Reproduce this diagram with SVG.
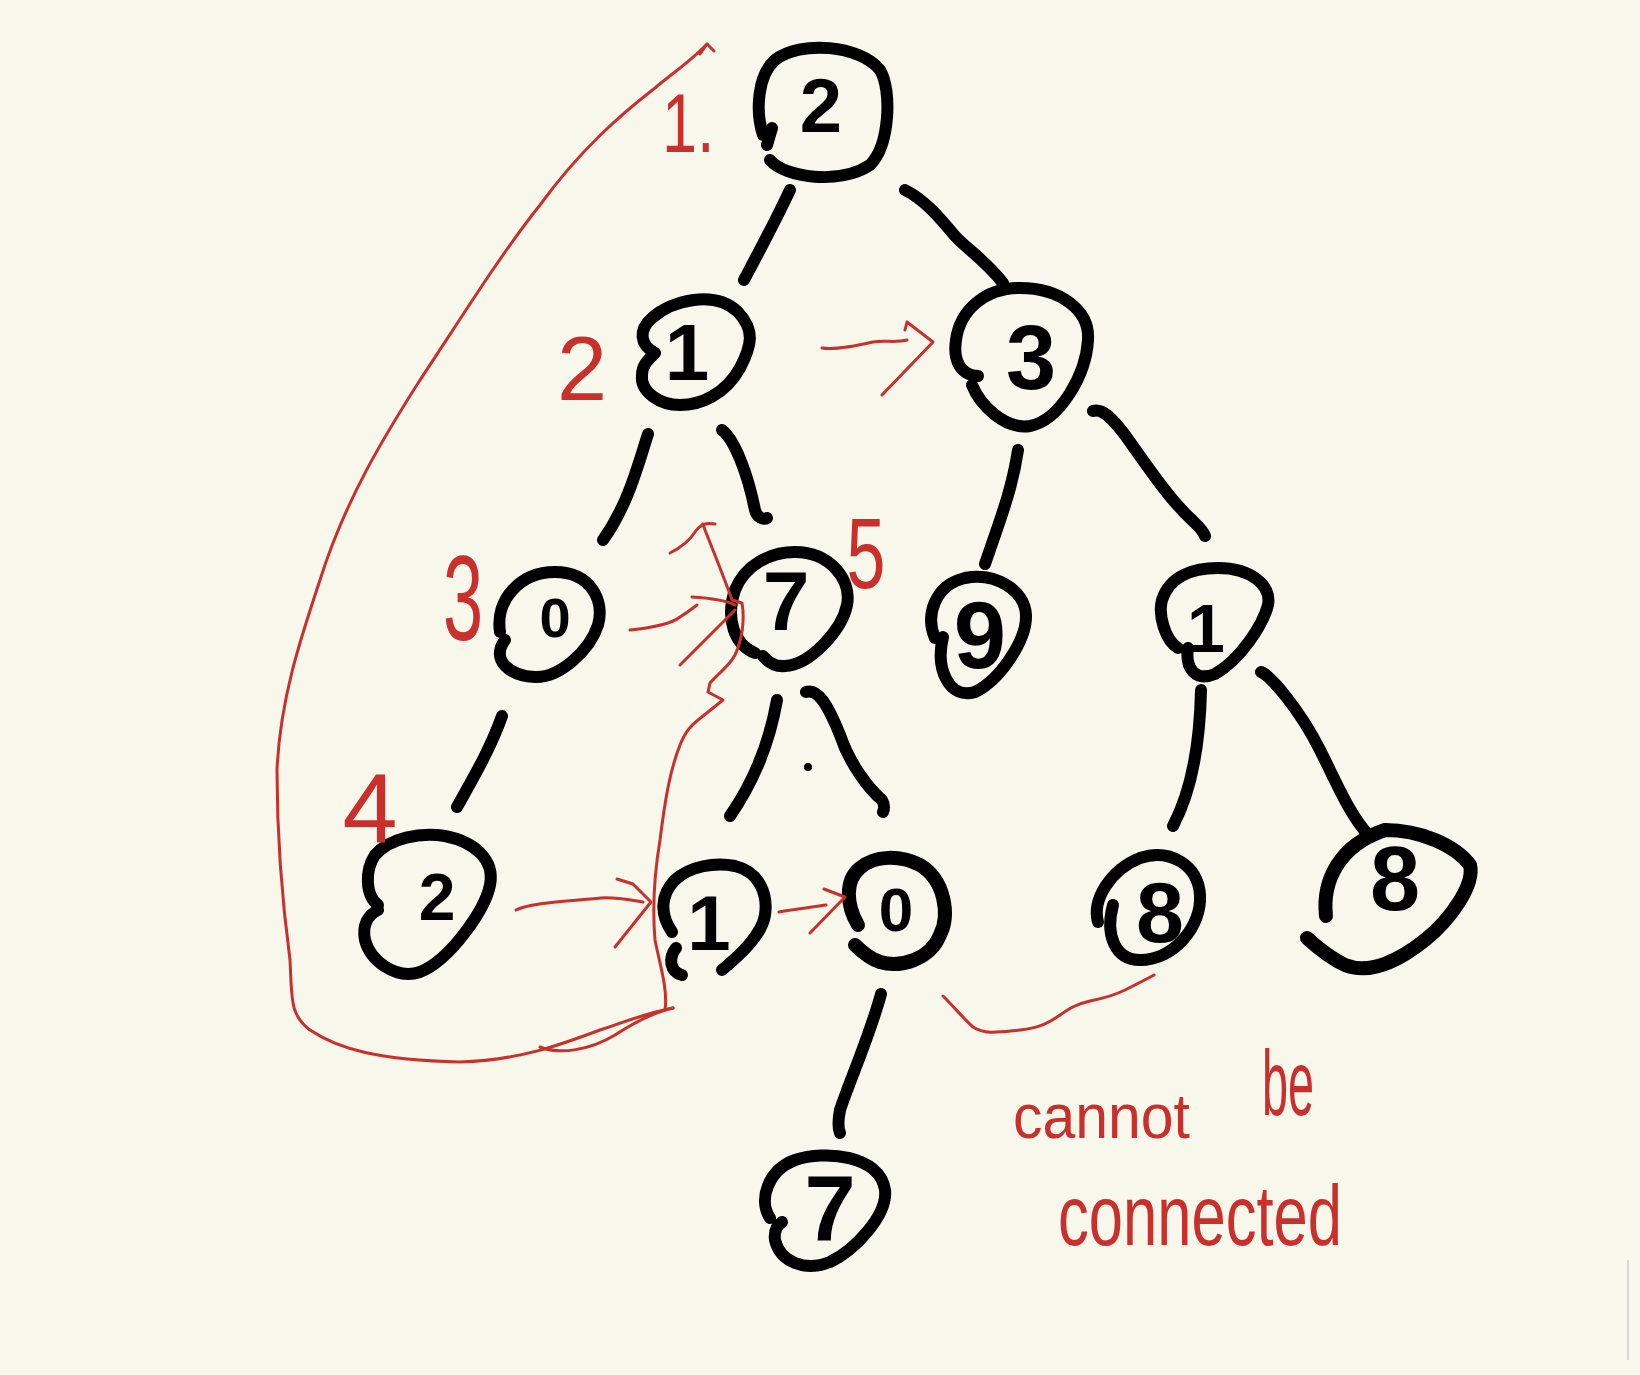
<svg xmlns="http://www.w3.org/2000/svg" width="1640" height="1375" viewBox="0 0 1640 1375">
<style>
.ink{fill:none;stroke:#000;stroke-width:12;stroke-linecap:round;stroke-linejoin:round}
.thick{stroke-width:14}
.red{fill:none;stroke:#c9302c;stroke-width:3;stroke-linecap:round;stroke-linejoin:round}
.d{font-family:"Liberation Sans",Arial,sans-serif;font-weight:bold;fill:#000;text-anchor:middle}
.r{font-family:"Liberation Sans",Arial,sans-serif;fill:#c9302c}
</style>
<rect width="1640" height="1375" fill="#f7f7ec"/>
<line x1="1628" y1="1260" x2="1628" y2="1360" stroke="#d8d8d8" stroke-width="2"/>

<g id="connectors">
<path class="ink" d="M790,190 C775,222 760,250 744,280"/>
<path class="ink" d="M905,190 C925,200 940,218 955,236 C968,250 985,260 1003,283"/>
<path class="ink" d="M648,434 C638,465 628,505 603,540"/>
<path class="ink" d="M722,430 C735,440 748,475 755,510 C757,518 764,520 767,518"/>
<path class="ink" d="M1018,450 C1012,490 1000,520 985,564"/>
<path class="ink" d="M1093,411 C1102,408 1112,418 1125,435 C1150,470 1170,500 1192,520 C1198,526 1203,530 1205,536"/>
<path class="ink" d="M502,716 C490,750 472,780 457,807"/>
<path class="ink" d="M777,700 C770,740 755,780 730,816"/>
<path class="ink" d="M806,692 C818,688 828,705 840,735 C850,765 870,790 882,800 C885,805 884,810 883,812"/>
<circle cx="808" cy="767" r="4" fill="#000"/>
<path class="ink" d="M1201,690 C1200,740 1192,790 1173,826"/>
<path class="ink" d="M1261,672 C1270,675 1300,710 1320,750 C1340,790 1350,815 1370,837"/>
<path class="ink" d="M881,994 C870,1035 850,1080 840,1110 C838,1120 838,1128 840,1133"/>
</g>

<g id="n-root">
<path class="ink" d="M770,160 C785,178 840,185 870,165 C890,145 892,90 880,70 C860,45 800,40 775,60 C758,75 755,110 763,135"/>
<path class="ink" d="M772,128 L767,145"/>
<text class="d" x="821" y="132" font-size="76">2</text>
</g>
<g id="n-1a">
<path class="ink" d="M655,353 C640,345 638,330 652,318 C672,300 715,290 738,312 C755,330 752,345 740,368 C725,395 700,405 680,405 C660,405 640,392 642,375 C642,365 648,360 655,353"/>
<text class="d" x="687" y="380" font-size="80">1</text>
</g>
<g id="n-3">
<path class="ink" d="M978,376 C960,375 953,360 956,340 C960,310 985,288 1020,288 C1060,288 1090,310 1088,340 C1086,375 1060,420 1030,426 C1005,430 980,405 972,385"/>
<text class="d" x="1031" y="389" font-size="90">3</text>
</g>
<g id="n-0a">
<path class="ink" d="M500,632 C495,600 520,572 555,572 C590,572 605,600 598,625 C590,650 560,678 535,677 C510,676 490,660 505,640"/>
<text class="d" x="555" y="637" font-size="56">0</text>
</g>
<g id="n-7a">
<path class="ink" d="M755,653 C735,645 725,620 735,590 C745,565 770,552 795,552 C830,552 852,580 847,605 C842,630 810,665 785,666 C775,667 768,662 763,656"/>
<text class="d" x="786" y="630" font-size="84">7</text>
</g>
<g id="n-9">
<path class="ink" d="M935,638 C925,615 935,585 965,578 C995,572 1025,590 1026,615 C1027,640 1000,680 975,692 C950,700 935,670 943,637"/>
<text class="d" x="980" y="668" font-size="94">9</text>
</g>
<g id="n-1b">
<path class="ink" d="M1178,648 C1165,640 1158,615 1162,600 C1170,575 1195,568 1218,568 C1250,568 1272,585 1268,605 C1263,625 1240,660 1215,674 C1195,682 1185,668 1188,648"/>
<text class="d" x="1206" y="652" font-size="68">1</text>
</g>
<g id="n-2b">
<path class="ink" d="M378,905 C365,895 365,870 375,855 C390,838 420,832 445,836 C475,842 495,860 490,885 C485,910 450,960 420,972 C395,980 370,960 365,940 C362,925 368,915 378,910"/>
<text class="d" x="437" y="920" font-size="66">2</text>
</g>
<g id="n-1c">
<path class="ink" d="M672,932 C660,915 660,895 675,880 C690,866 715,862 735,866 C760,872 768,895 765,915 C762,935 740,955 722,970"/>
<path class="ink" d="M676,948 C668,958 670,972 682,975"/>
<text class="d" x="709" y="950" font-size="78">1</text>
</g>
<g id="n-0b">
<path class="ink thick" d="M858,925 C846,905 845,880 860,868 C875,855 900,855 920,865 C945,880 950,915 940,935 C930,960 900,968 880,962 C868,958 860,950 855,945"/>
<text class="d" x="896" y="931" font-size="62">0</text>
</g>
<g id="n-8a">
<path class="ink" d="M1098,922 C1092,900 1110,870 1140,858 C1170,848 1198,865 1200,895 C1202,925 1175,960 1140,960 C1115,960 1105,935 1113,905"/>
<text class="d" x="1160" y="942" font-size="86">8</text>
</g>
<g id="n-8b">
<path class="ink thick" d="M1326,916 C1322,880 1340,845 1385,830 C1420,830 1455,845 1470,865 C1475,885 1450,920 1425,940 C1400,960 1370,975 1345,965 C1330,958 1318,948 1307,938"/>
<text class="d" x="1395" y="910" font-size="90">8</text>
</g>
<g id="n-7b">
<path class="ink" d="M770,1218 C758,1200 768,1170 795,1160 C825,1150 880,1155 885,1190 C888,1215 855,1250 830,1262 C805,1272 780,1262 775,1240 C774,1232 776,1226 782,1222"/>
<text class="d" x="830" y="1240" font-size="92">7</text>
</g>

<g id="annotations">
<path class="red" d="M707,44 C690,62 670,75 655,88 C620,115 580,150 540,205 C500,255 460,320 420,380 C385,435 345,500 320,580 C300,640 280,700 277,770 C277,840 282,900 290,960 C292,1000 290,1015 310,1030 C340,1050 380,1060 460,1062 C520,1060 560,1045 600,1030 C630,1020 650,1012 673,1008"/>
<path class="red" d="M700,54 L707,44 L714,51"/>
<path class="red" d="M540,1047 C560,1055 590,1050 615,1035 C635,1022 655,1012 673,1008"/>
<path class="red" d="M665,1010 C668,990 660,965 655,940 C652,905 655,870 660,840 C665,800 670,770 680,745 C686,730 692,725 698,720 L723,700 L708,692 L710,683 C720,672 730,665 735,655 C742,640 745,620 742,603 L732,600 C725,580 715,555 705,530 L703,524"/>
<path class="red" d="M670,553 C680,548 690,540 695,532 C700,525 705,522 715,524"/>
<path class="red" d="M822,348 C835,350 860,345 873,342 C885,340 895,343 907,340"/>
<path class="red" d="M905,330 L907,322 L933,342 L882,395"/>
<path class="red" d="M630,630 C650,628 670,625 680,617 C688,612 693,608 697,605"/>
<path class="red" d="M692,597 C710,598 725,600 735,605 M680,665 C700,645 720,625 735,610"/>
<path class="red" d="M516,910 C530,903 560,902 601,898 C615,897 630,900 643,902"/>
<path class="red" d="M617,879 L633,884 L651,902 L615,947"/>
<path class="red" d="M779,912 C790,910 805,908 826,905"/>
<path class="red" d="M824,889 L845,897 L810,933"/>
<path class="red" d="M943,996 C955,1008 965,1020 973,1027 C985,1035 1000,1032 1020,1030 C1040,1028 1050,1022 1060,1015 C1070,1008 1077,1004 1090,1001 C1105,998 1115,995 1125,990 C1135,985 1145,980 1154,975"/>
<text class="r" transform="translate(662,152) scale(0.75,1)" font-size="84">1.</text>
<text class="r" x="582" y="400" font-size="90" text-anchor="middle">2</text>
<text class="r" transform="translate(463,640) scale(0.6,1)" font-size="120" text-anchor="middle">3</text>
<text class="r" x="370" y="842" font-size="99" text-anchor="middle">4</text>
<text class="r" transform="translate(866,588) scale(0.7,1)" font-size="100" text-anchor="middle">5</text>
<text class="r" x="1013" y="1138" font-size="63" textLength="177" lengthAdjust="spacingAndGlyphs">cannot</text>
<text class="r" transform="translate(1262,1115) scale(0.65,1.3)" font-size="72">be</text>
<text class="r" x="1058" y="1245" font-size="85" textLength="284" lengthAdjust="spacingAndGlyphs">connected</text>
</g>
</svg>
